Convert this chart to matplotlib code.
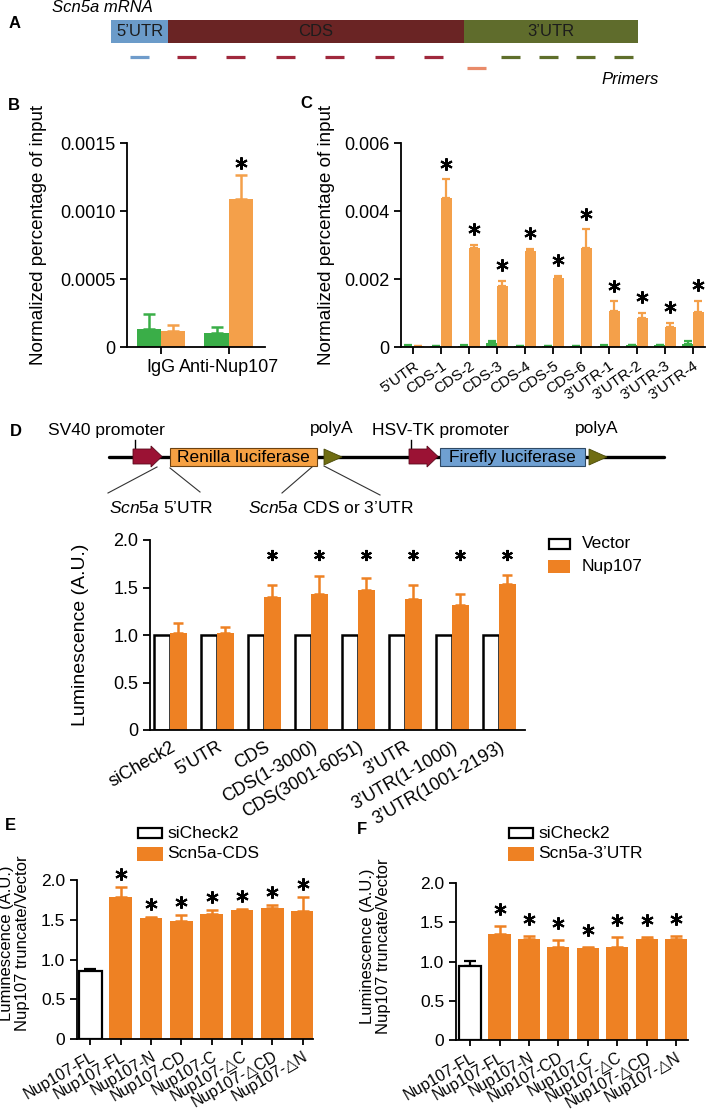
import numpy as np
import matplotlib
matplotlib.use("Agg")
import matplotlib.pyplot as plt
from matplotlib.patches import Rectangle, Polygon

plt.rcParams['font.family'] = ['Liberation Sans', 'DejaVu Sans']
plt.rcParams['mathtext.fontset'] = 'custom'
plt.rcParams['mathtext.it'] = 'Liberation Sans:italic'
plt.rcParams['mathtext.rm'] = 'Liberation Sans'

W, H = 709, 1113

# ---------------- data ----------------
# B: RIP-qPCR, IgG vs anti-Nup107
b_groups = ["IgG", "Anti-Nup107"]
b_nup = [0.000115, 0.001085]
b_nup_err = [0.000044, 0.000178]
b_gfp = [0.000134, 0.000102]
b_gfp_err = [0.00011, 0.000044]

# C: primers along Scn5a mRNA
c_labels = ["5’UTR", "CDS-1", "CDS-2", "CDS-3", "CDS-4", "CDS-5", "CDS-6",
            "3’UTR-1", "3’UTR-2", "3’UTR-3", "3’UTR-4"]
c_nup = [0.00002, 0.00437, 0.00291, 0.00178, 0.00283, 0.00203, 0.0029,
         0.00107, 0.00086, 0.00059, 0.00102]
c_nup_err = [0.0, 0.00056, 0.0001, 0.00017, 0.00005, 0.00007, 0.00056,
             0.00027, 0.00014, 0.00012, 0.00033]
c_gfp = [0.00004, 0.00003, 0.00004, 0.00012, 0.00002, 0.00002, 0.00003,
         0.00004, 0.00005, 0.00005, 0.0001]
c_gfp_err = [0.00001, 0.00001, 0.00001, 0.00005, 0.00001, 0.00001, 0.00001,
             0.00001, 0.00001, 0.00001, 0.00007]
c_sig = [False] + [True] * 10

# D: luciferase reporter
d_labels = ["siCheck2", "5’UTR", "CDS", "CDS(1-3000)", "CDS(3001-6051)",
            "3’UTR", "3’UTR(1-1000)", "3’UTR(1001-2193)"]
d_vector = [1.0, 1.0, 1.0, 1.0, 1.0, 1.0, 1.0, 1.0]
d_nup = [1.02, 1.02, 1.40, 1.435, 1.474, 1.378, 1.317, 1.54]
d_nup_err = [0.105, 0.06, 0.123, 0.19, 0.122, 0.145, 0.118, 0.09]
d_sig = [False, False, True, True, True, True, True, True]
d_star_level = 1.84

# E / F: Nup107 truncates
ef_labels = ["Nup107-FL", "Nup107-FL", "Nup107-N", "Nup107-CD", "Nup107-C",
             "Nup107-△C", "Nup107-△CD", "Nup107-△N"]
e_vals = [0.86, 1.78, 1.52, 1.49, 1.57, 1.627, 1.65, 1.61]
e_err = [0.016, 0.13, 0.015, 0.065, 0.05, 0.008, 0.03, 0.176]
f_vals = [0.945, 1.35, 1.29, 1.19, 1.17, 1.18, 1.29, 1.29]
f_err = [0.065, 0.105, 0.04, 0.08, 0.02, 0.13, 0.02, 0.04]
ef_sig = [False, True, True, True, True, True, True, True]

# colours
ORANGE_L = '#f4a04a'
GREEN = '#3aae48'
ORANGE = '#ee8123'

fig = plt.figure(figsize=(W / 100, H / 100), dpi=100)


def px_axes(l, t, r, b):
    return fig.add_axes([l / W, 1 - b / H, (r - l) / W, (b - t) / H])


def style(ax, fs=13):
    for s in ['top', 'right']:
        ax.spines[s].set_visible(False)
    for s in ['left', 'bottom']:
        ax.spines[s].set_linewidth(1.3)
    ax.tick_params(width=1.3, length=5, labelsize=fs)


def stars(ax, x, y, ms=9):
    ax.plot(x, y, linestyle='none', marker=(6, 2, 0), ms=ms, mew=1.5,
            color='k', clip_on=False)


# overlay for schematics / letters / legends
ov = fig.add_axes([0, 0, 1, 1])
ov.set_xlim(0, W)
ov.set_ylim(H, 0)
ov.axis('off')

for txt, x, y in [("A", 9, 24), ("B", 8, 106), ("C", 300, 104), ("D", 10, 431),
                  ("E", 5, 825), ("F", 357, 830)]:
    ov.text(x, y, txt, fontsize=12, fontweight='bold', va='center')

# ---- A: mRNA schematic ----
mrna_names = ["5’UTR", "CDS", "3’UTR"]
mrna_bounds = [111, 168, 464, 638]
mrna_cols = ['#6b9bc9', '#6a2424', '#5f6c2c']
for i, name in enumerate(mrna_names):
    x0, x1 = mrna_bounds[i], mrna_bounds[i + 1]
    ov.add_patch(Rectangle((x0, 20), x1 - x0, 23, color=mrna_cols[i], lw=0))
    ov.text((x0 + x1) / 2, 31.5, name, ha='center', va='center',
            fontsize=12, color='#1c1c1c')
ov.text(52, 8, "Scn5a mRNA", style='italic', fontsize=12, va='center')
ov.text(659, 80, "Primers", style='italic', fontsize=12, va='center', ha='right')

primer_x = [130, 177, 226, 276, 325, 375, 424, 467, 501, 539, 576, 614]
primer_c = ['#6f9ccb'] + ['#a0283c'] * 6 + ['#e98b69'] + ['#5f6f2b'] * 4
for x, c in zip(primer_x, primer_c):
    y = 68 if c == '#e98b69' else 57
    ov.plot([x, x + 19], [y, y], color=c, lw=2.3, solid_capstyle='butt')

# ---- B ----
axb = px_axes(127, 143, 265, 347)
style(axb)
xb = np.arange(len(b_groups))
bw = 0.36
axb.bar(xb - bw / 2, b_gfp, bw, color=GREEN, zorder=2)
axb.bar(xb + bw / 2, b_nup, bw, color=ORANGE_L, zorder=2)
axb.errorbar(xb - bw / 2, b_gfp, yerr=[np.zeros(2), b_gfp_err], fmt='none',
             ecolor=GREEN, elinewidth=1.8, capsize=4, capthick=1.8, zorder=1)
axb.errorbar(xb + bw / 2, b_nup, yerr=[np.zeros(2), b_nup_err], fmt='none',
             ecolor=ORANGE_L, elinewidth=1.8, capsize=4, capthick=1.8, zorder=1)
stars(axb, [xb[1] + bw / 2], [b_nup[1] + b_nup_err[1] + 0.00009])
axb.set_xlim(-0.5, 1.53)
axb.set_ylim(0, 0.0015)
axb.set_yticks([0, 0.0005, 0.0010, 0.0015])
axb.set_yticklabels(["0", "0.0005", "0.0010", "0.0015"])
axb.set_xticks(xb)
axb.set_xticklabels(b_groups)
axb.tick_params(axis='x', pad=4)
axb.set_ylabel("Normalized percentage of input", fontsize=13.5)
axb.yaxis.set_label_coords(-0.58, 0.55)

ov.add_patch(Rectangle((135, 213), 25, 13, color=ORANGE_L, lw=0))
ov.add_patch(Rectangle((135, 237), 25, 13, color=GREEN, lw=0))
ov.text(167, 220, "Nup107", fontsize=12.5, va='center')
ov.text(167, 244, "GFP", fontsize=12.5, va='center')

# ---- C ----
axc = px_axes(401, 143, 705, 347)
style(axc)
xc = np.arange(len(c_labels))
cw = 0.38
axc.bar(xc - cw / 2, c_gfp, cw, color=GREEN, zorder=2)
axc.bar(xc + cw / 2, c_nup, cw, color=ORANGE_L, zorder=2)
axc.errorbar(xc - cw / 2, c_gfp, yerr=[np.zeros(len(xc)), c_gfp_err], fmt='none',
             ecolor=GREEN, elinewidth=1.6, capsize=3, capthick=1.6, zorder=1)
axc.errorbar(xc + cw / 2, c_nup, yerr=[np.zeros(len(xc)), c_nup_err], fmt='none',
             ecolor=ORANGE_L, elinewidth=1.6, capsize=3, capthick=1.6, zorder=1)
sx = [x + cw / 2 for x, s in zip(xc, c_sig) if s]
sy = [v + e + 0.00046 for v, e, s in zip(c_nup, c_nup_err, c_sig) if s]
stars(axc, sx, sy)
axc.set_xlim(-0.43, 10.43)
axc.set_ylim(0, 0.006)
axc.set_yticks([0, 0.002, 0.004, 0.006])
axc.set_yticklabels(["0", "0.002", "0.004", "0.006"])
axc.set_xticks(xc)
axc.set_xticklabels(c_labels, rotation=35, ha='right', rotation_mode='anchor',
                    fontsize=11)
axc.set_ylabel("Normalized percentage of input", fontsize=13.5)
axc.yaxis.set_label_coords(-0.217, 0.55)

ov.add_patch(Rectangle((588, 148), 25, 13, color=ORANGE_L, lw=0))
ov.add_patch(Rectangle((588, 173), 25, 12, color=GREEN, lw=0))
ov.text(622, 155, "Nup107", fontsize=12.5, va='center')
ov.text(622, 179, "GFP", fontsize=12.5, va='center')

# ---- D: construct schematic ----
ov.plot([109, 664], [457, 457], color='k', lw=2.4, zorder=1,
        solid_capstyle='round')
for x0 in (133, 409):
    body = x0 + 18
    tip = x0 + 29
    ov.add_patch(Polygon([(x0, 449), (body, 449), (body, 446), (tip, 456.5),
                          (body, 467), (body, 464), (x0, 464)],
                         fc='#9b1234', ec='#5a0a1c', lw=0.6, zorder=3))
    ov.plot([x0 + 2, x0 + 2], [440, 457], color='k', lw=1, zorder=2)
for x0 in (324, 589):
    ov.add_patch(Polygon([(x0, 449), (x0 + 18, 457), (x0, 465)],
                         fc='#6f6d12', ec='#4a4a08', lw=0.6, zorder=3))
ov.add_patch(Rectangle((170, 448), 147, 18, fc='#f6a143', ec='#6b4213',
                       lw=0.8, zorder=3))
ov.text(243.5, 457.5, "Renilla luciferase", ha='center', va='center',
        fontsize=12.5, zorder=4)
ov.add_patch(Rectangle((440, 448), 145, 18, fc='#6fa0d2', ec='#2f4a66',
                       lw=0.8, zorder=3))
ov.text(512.5, 457.5, "Firefly luciferase", ha='center', va='center',
        fontsize=12.5, zorder=4)
for xs, ys in [([157, 108], [467, 493]), ([170, 200], [468, 492]),
               ([312, 282], [467, 493]), ([324, 380], [466, 495])]:
    ov.plot(xs, ys, color='#333333', lw=0.8)
ov.text(48, 431, "SV40 promoter", fontsize=12.5, va='center')
ov.text(310, 429, "polyA", fontsize=12.5, va='center')
ov.text(372, 431, "HSV-TK promoter", fontsize=12.5, va='center')
ov.text(575, 429, "polyA", fontsize=12.5, va='center')
ov.text(109, 508, r"$\mathit{Scn5a}$ 5’UTR", fontsize=12.5, va='center')
ov.text(248, 508, r"$\mathit{Scn5a}$ CDS or 3’UTR", fontsize=12.5, va='center')

# ---- D: chart ----
axd = px_axes(150, 540, 525, 730)
style(axd)
xd = np.arange(len(d_labels))
dw = 0.35
axd.bar(xd - dw / 2, d_vector, dw, facecolor='white', edgecolor='k',
        lw=1.8, zorder=2)
axd.bar(xd + dw / 2, d_nup, dw, color=ORANGE, zorder=2)
axd.errorbar(xd + dw / 2, d_nup, yerr=[np.zeros(len(xd)), d_nup_err], fmt='none',
             ecolor=ORANGE, elinewidth=1.8, capsize=3.5, capthick=1.8, zorder=1)
stars(axd, [x + dw / 2 for x, s in zip(xd, d_sig) if s],
      [d_star_level for s in d_sig if s], ms=8)
axd.set_xlim(-0.43, 7.55)
axd.set_ylim(0, 2.0)
axd.set_yticks([0, 0.5, 1.0, 1.5, 2.0])
axd.set_yticklabels(["0", "0.5", "1.0", "1.5", "2.0"])
axd.set_xticks(xd)
axd.set_xticklabels(d_labels, rotation=30, ha='right', rotation_mode='anchor')
axd.tick_params(axis='x', length=0, pad=6)
axd.set_ylabel("Luminescence (A.U.)", fontsize=14)
axd.yaxis.set_label_coords(-0.163, 0.5)

ov.add_patch(Rectangle((549, 539), 21, 10, fc='white', ec='k', lw=1.6))
ov.add_patch(Rectangle((548, 560), 22, 13, color=ORANGE, lw=0))
ov.text(582, 543, "Vector", fontsize=12.5, va='center')
ov.text(582, 566, "Nup107", fontsize=12.5, va='center')


# ---- E / F ----
def truncate_panel(rect, vals, errs):
    ax = px_axes(*rect)
    style(ax, fs=12.5)
    x = np.arange(len(ef_labels))
    w = 0.75
    ax.bar(x[:1], vals[:1], w, facecolor='white', edgecolor='k', lw=1.6, zorder=2)
    ax.bar(x[1:], vals[1:], w, color=ORANGE, zorder=2)
    ax.errorbar(x[:1], vals[:1], yerr=[[0], errs[:1]], fmt='none', ecolor='k',
                elinewidth=1.6, capsize=4, capthick=1.6, zorder=1)
    ax.errorbar(x[1:], vals[1:], yerr=[np.zeros(len(x) - 1), errs[1:]], fmt='none',
                ecolor=ORANGE, elinewidth=1.8, capsize=4, capthick=1.8, zorder=1)
    return ax, x


axe, xe = truncate_panel((77, 880, 313, 1039), e_vals, e_err)
stars(axe, [x for x, s in zip(xe, ef_sig) if s],
      [v + e + 0.165 for v, e, s in zip(e_vals, e_err, ef_sig) if s])
axe.set_xlim(-0.445, 7.345)

axf, xf = truncate_panel((456, 883, 688, 1040), f_vals, f_err)
stars(axf, [x for x, s in zip(xf, ef_sig) if s],
      [v + e + 0.215 for v, e, s in zip(f_vals, f_err, ef_sig) if s])
axf.set_xlim(-0.48, 7.41)

for ax, lx in [(axe, -0.20), (axf, -0.28)]:
    ax.set_ylim(0, 2.0)
    ax.set_yticks([0, 0.5, 1.0, 1.5, 2.0])
    ax.set_yticklabels(["0", "0.5", "1.0", "1.5", "2.0"])
    ax.set_xticks(np.arange(len(ef_labels)))
    ax.set_xticklabels(ef_labels, rotation=30, ha='right', rotation_mode='anchor',
                       fontsize=11.5)
    ax.tick_params(axis='x', length=4, pad=3)
    ax.set_ylabel("Luminescence (A.U.)\nNup107 truncate/Vector", fontsize=12,
                  linespacing=1.05)
    ax.yaxis.set_label_coords(lx, 0.6)

for bx, by, name in [(137, 827, "Scn5a-CDS"), (508, 827, "Scn5a-3’UTR")]:
    ov.add_patch(Rectangle((bx + 1, by + 1), 24, 10, fc='white', ec='k', lw=1.6))
    ov.add_patch(Rectangle((bx, by + 20), 26, 14, color=ORANGE, lw=0))
    ov.text(bx + 30, by + 6, "siCheck2", fontsize=12.5, va='center')
    ov.text(bx + 30, by + 27, name, fontsize=12.5, va='center')

fig.savefig("out.png", dpi=100)
